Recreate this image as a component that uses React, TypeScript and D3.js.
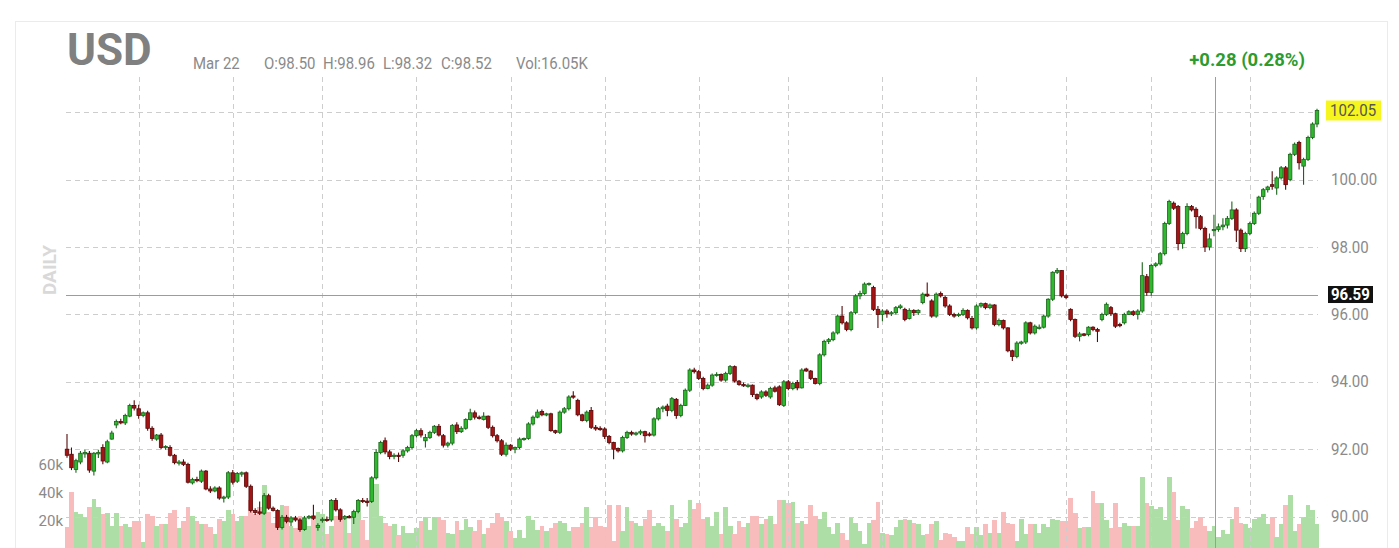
import * as d3 from "d3";

// daily OHLC, one entry per trading day
const OPEN = [
  92.0, 91.85, 91.4, 91.62, 91.86, 91.88, 91.35, 91.86, 92.05, 91.62,
  92.3, 92.72, 92.82, 92.78, 92.98, 93.3, 93.2, 93.0, 93.08, 92.62,
  92.3, 92.42, 92.05, 92.05, 91.82, 91.6, 91.62, 91.55, 91.0, 91.1,
  91.05, 91.35, 90.82, 90.76, 90.85, 90.55, 90.58, 91.3, 91.05, 91.26,
  91.3, 90.9, 90.18, 90.14, 90.1, 90.62, 90.25, 90.18, 89.68, 89.98,
  89.84, 89.96, 89.9, 89.62, 89.96, 90.02, 89.68, 89.88, 89.92, 89.9,
  90.48, 90.2, 89.95, 90.0, 89.98, 90.15, 90.48, 90.46, 90.45, 91.15,
  91.9, 92.25, 91.92, 91.8, 91.82, 91.82, 91.95, 92.05, 92.4, 92.55,
  92.25, 92.35, 92.5, 92.68, 92.4, 92.12, 92.18, 92.72, 92.52, 92.62,
  92.88, 93.08, 92.95, 92.88, 92.98, 92.65, 92.4, 92.25, 91.85, 92.12,
  92.0, 92.05, 92.3, 92.32, 92.75, 92.95, 93.12, 93.02, 93.05, 92.55,
  92.5, 93.1, 93.2, 93.58, 93.45, 93.02, 92.85, 93.15, 92.65, 92.62,
  92.6, 92.38, 92.2, 92.02, 91.95, 92.35, 92.5, 92.45, 92.48, 92.52,
  92.45, 92.42, 92.9, 93.2, 93.28, 93.15, 93.48, 93.0, 93.3, 93.75,
  94.35, 94.3, 94.1, 93.8, 93.9, 94.2, 94.22, 94.05, 94.25, 94.45,
  94.02, 93.92, 93.88, 93.9, 93.62, 93.55, 93.7, 93.55, 93.82, 93.85,
  93.3, 94.0, 93.8, 93.98, 93.82, 94.38, 94.32, 94.1, 93.95, 94.8,
  95.2, 95.25, 95.45, 95.95, 95.75, 95.55, 96.05, 96.55, 96.62, 96.9,
  96.8, 96.15, 96.0, 96.1, 96.02, 96.05, 96.2, 96.15, 95.88, 96.12,
  96.05, 96.35, 96.6, 96.4, 95.95, 96.62, 96.5, 96.25, 96.0, 95.98,
  96.0, 96.12, 95.88, 95.6, 96.25, 96.32, 96.2, 96.28, 95.7, 95.82,
  95.6, 94.92, 94.75, 95.15, 95.18, 95.75, 95.45, 95.6, 95.62, 95.95,
  96.45, 97.25, 97.3, 96.55, 96.15, 95.85, 95.35, 95.42, 95.4, 95.62,
  95.55, 95.85, 96.0, 96.2, 96.02, 95.7, 95.75, 96.0, 96.08, 96.0,
  96.1, 97.12, 96.65, 97.45, 97.5, 97.8, 98.7, 99.3, 99.2, 98.1,
  98.4, 99.2, 99.12, 98.9, 98.55, 98.0, 98.5, 98.52, 98.6, 98.65,
  98.85, 99.1, 98.5, 97.95, 98.4, 98.7, 99.0, 99.5, 99.7, 99.85,
  99.75, 100.05, 100.35, 100.0, 100.75, 101.1, 100.4, 100.6, 101.25, 101.65,
];

const HIGH = [
  92.45, 92.05, 91.72, 91.95, 91.98, 91.95, 91.92, 91.98, 92.15, 92.28,
  92.55, 92.88, 92.9, 93.05, 93.35, 93.45, 93.32, 93.12, 93.14, 92.68,
  92.45, 92.48, 92.12, 92.12, 91.86, 91.68, 91.7, 91.6, 91.15, 91.18,
  91.4, 91.38, 90.9, 90.9, 90.9, 90.62, 91.35, 91.38, 91.32, 91.34,
  91.34, 90.95, 90.25, 90.45, 90.7, 90.68, 90.3, 90.22, 90.05, 90.05,
  90.02, 90.02, 89.95, 90.02, 90.05, 90.35, 89.8, 89.98, 90.0, 90.52,
  90.55, 90.25, 90.05, 90.05, 90.2, 90.52, 90.55, 90.55, 91.2, 92.0,
  92.25, 92.35, 91.98, 91.88, 91.9, 92.0, 92.1, 92.45, 92.6, 92.62,
  92.45, 92.55, 92.72, 92.75, 92.45, 92.22, 92.75, 92.8, 92.68, 92.92,
  93.2, 93.15, 93.0, 93.1, 93.0, 92.7, 92.45, 92.3, 92.2, 92.15,
  92.08, 92.35, 92.35, 92.8, 93.0, 93.18, 93.18, 93.08, 93.08, 92.58,
  93.15, 93.25, 93.6, 93.72, 93.5, 93.05, 93.15, 93.25, 92.72, 92.68,
  92.65, 92.42, 92.22, 92.05, 92.4, 92.55, 92.55, 92.52, 92.58, 92.55,
  92.5, 92.95, 93.25, 93.3, 93.35, 93.55, 93.52, 93.35, 93.8, 94.4,
  94.42, 94.35, 94.15, 93.95, 94.25, 94.28, 94.25, 94.3, 94.5, 94.48,
  94.05, 93.98, 93.95, 93.92, 93.65, 93.75, 93.75, 93.85, 93.88, 93.9,
  94.05, 94.05, 94.0, 94.05, 94.4, 94.42, 94.35, 94.12, 94.85, 95.25,
  95.3, 95.5, 96.0, 96.25, 95.8, 96.1, 96.6, 96.7, 96.95, 96.95,
  96.85, 96.25, 96.15, 96.15, 96.1, 96.25, 96.3, 96.2, 96.18, 96.15,
  96.15, 96.65, 96.95, 96.45, 96.65, 96.68, 96.55, 96.3, 96.05, 96.05,
  96.18, 96.15, 95.95, 96.3, 96.35, 96.35, 96.32, 96.3, 95.88, 95.85,
  95.62, 94.95, 95.2, 95.22, 95.8, 95.78, 95.7, 95.7, 96.0, 96.48,
  97.28, 97.38, 97.32, 96.6, 96.18, 95.88, 95.48, 95.45, 95.65, 95.65,
  95.6, 96.05, 96.35, 96.25, 96.05, 95.75, 96.05, 96.12, 96.12, 96.15,
  97.55, 97.2, 97.5, 97.55, 97.85, 98.75, 99.4, 99.35, 99.25, 98.45,
  99.3, 99.25, 99.18, 98.95, 98.6, 98.4, 98.96, 98.7, 98.85, 98.92,
  99.35, 99.15, 98.55, 98.45, 98.75, 99.05, 99.52, 99.75, 99.82, 100.25,
  100.1, 100.4, 100.4, 100.8, 101.1, 101.15, 100.65, 101.3, 101.7, 102.1,
];

const LOW = [
  91.75, 91.38, 91.3, 91.55, 91.75, 91.3, 91.22, 91.74, 91.55, 91.58,
  92.28, 92.62, 92.74, 92.72, 92.95, 93.15, 92.9, 92.95, 92.55, 92.25,
  92.25, 92.0, 91.98, 91.78, 91.55, 91.52, 91.5, 90.98, 90.95, 91.02,
  91.0, 90.78, 90.7, 90.72, 90.5, 90.42, 90.52, 90.95, 91.0, 91.18,
  90.85, 90.12, 90.05, 90.05, 90.05, 90.2, 90.15, 89.6, 89.62, 89.8,
  89.72, 89.85, 89.55, 89.58, 89.92, 89.9, 89.58, 89.82, 89.85, 89.85,
  90.15, 89.85, 89.9, 89.95, 89.78, 90.1, 90.4, 90.3, 90.4, 91.1,
  91.85, 91.85, 91.7, 91.7, 91.62, 91.75, 91.9, 92.0, 92.35, 92.35,
  92.05, 92.3, 92.45, 92.38, 92.05, 92.05, 92.12, 92.45, 92.48, 92.58,
  92.85, 92.88, 92.88, 92.85, 92.6, 92.35, 92.2, 91.8, 91.78, 91.95,
  91.88, 92.0, 92.25, 92.28, 92.7, 92.92, 92.98, 92.98, 92.52, 92.45,
  92.45, 93.05, 93.15, 93.5, 92.98, 92.82, 92.8, 92.6, 92.55, 92.55,
  92.3, 92.15, 91.7, 91.9, 91.9, 92.3, 92.4, 92.4, 92.42, 92.2,
  92.38, 92.38, 92.85, 93.1, 92.98, 93.1, 92.9, 92.95, 93.28, 93.7,
  94.25, 94.05, 93.75, 93.78, 93.85, 94.15, 94.0, 94.0, 94.2, 93.98,
  93.88, 93.85, 93.82, 93.55, 93.45, 93.5, 93.55, 93.5, 93.68, 93.28,
  93.25, 93.75, 93.75, 93.75, 93.8, 94.3, 94.05, 93.92, 93.9, 94.75,
  95.12, 95.2, 95.4, 95.7, 95.5, 95.5, 96.0, 96.45, 96.58, 96.85,
  96.1, 95.6, 95.8, 95.9, 95.95, 96.0, 96.15, 95.8, 95.85, 95.95,
  95.98, 96.3, 96.52, 95.9, 95.9, 96.5, 96.2, 95.95, 95.9, 95.92,
  95.95, 95.85, 95.55, 95.55, 96.2, 96.15, 96.15, 95.65, 95.65, 95.55,
  94.88, 94.62, 94.7, 95.1, 95.12, 95.4, 95.4, 95.55, 95.58, 95.9,
  96.4, 97.2, 96.5, 96.45, 95.8, 95.3, 95.2, 95.35, 95.35, 95.5,
  95.18, 95.8, 95.95, 95.95, 95.6, 95.62, 95.7, 95.98, 95.95, 95.85,
  96.05, 96.55, 96.55, 97.4, 97.45, 97.75, 98.65, 99.1, 97.9, 97.95,
  98.35, 99.05, 98.55, 98.5, 97.85, 97.9, 98.32, 98.45, 98.5, 98.55,
  98.8, 98.15, 97.85, 97.85, 98.35, 98.65, 98.95, 99.4, 99.62, 99.7,
  99.55, 100.0, 99.7, 99.95, 100.7, 100.3, 99.85, 100.55, 101.2, 101.55,
];

const CLOSE = [
  91.82, 91.45, 91.66, 91.88, 91.9, 91.38, 91.88, 91.9, 91.65, 92.22,
  92.48, 92.82, 92.78, 93.0, 93.3, 93.22, 93.0, 93.08, 92.62, 92.32,
  92.42, 92.05, 92.08, 91.82, 91.6, 91.62, 91.55, 91.02, 91.1, 91.08,
  91.35, 90.82, 90.76, 90.85, 90.55, 90.58, 91.3, 91.02, 91.28, 91.3,
  90.9, 90.18, 90.12, 90.1, 90.62, 90.25, 90.18, 89.68, 89.98, 89.86,
  89.96, 89.9, 89.62, 89.96, 90.0, 89.95, 89.74, 89.92, 89.9, 90.48,
  90.2, 89.92, 90.0, 89.98, 90.15, 90.48, 90.46, 90.42, 91.15, 91.9,
  92.2, 91.92, 91.78, 91.82, 91.8, 91.95, 92.05, 92.4, 92.55, 92.42,
  92.35, 92.5, 92.68, 92.42, 92.12, 92.18, 92.7, 92.52, 92.62, 92.88,
  93.08, 92.95, 92.92, 92.98, 92.65, 92.4, 92.25, 91.85, 92.12, 92.0,
  92.05, 92.3, 92.32, 92.75, 92.95, 93.1, 93.02, 93.05, 92.55, 92.5,
  93.1, 93.2, 93.55, 93.55, 93.02, 92.85, 93.1, 92.65, 92.6, 92.58,
  92.38, 92.2, 92.0, 91.95, 92.35, 92.5, 92.45, 92.48, 92.52, 92.4,
  92.42, 92.9, 93.2, 93.25, 93.15, 93.5, 93.0, 93.3, 93.75, 94.35,
  94.3, 94.1, 93.8, 93.9, 94.2, 94.22, 94.05, 94.25, 94.45, 94.02,
  93.92, 93.88, 93.9, 93.62, 93.5, 93.7, 93.6, 93.8, 93.72, 93.32,
  94.0, 93.8, 93.95, 93.82, 94.35, 94.32, 94.1, 93.95, 94.8, 95.2,
  95.25, 95.45, 95.95, 95.75, 95.55, 96.05, 96.55, 96.62, 96.9, 96.92,
  96.15, 96.0, 96.1, 96.02, 96.05, 96.2, 96.25, 95.85, 96.12, 96.05,
  96.12, 96.6, 96.55, 95.95, 96.6, 96.55, 96.25, 96.0, 95.95, 96.0,
  96.12, 95.9, 95.6, 96.25, 96.32, 96.2, 96.28, 95.7, 95.82, 95.6,
  94.92, 94.75, 95.15, 95.18, 95.75, 95.45, 95.65, 95.62, 95.95, 96.45,
  97.25, 97.3, 96.55, 96.5, 95.85, 95.35, 95.42, 95.38, 95.62, 95.55,
  95.5, 96.0, 96.3, 96.02, 95.65, 95.68, 96.0, 96.08, 96.0, 96.1,
  97.15, 96.65, 97.45, 97.5, 97.8, 98.7, 99.35, 99.15, 98.1, 98.4,
  99.2, 99.1, 98.9, 98.55, 98.0, 98.24, 98.52, 98.6, 98.65, 98.85,
  99.1, 98.5, 97.95, 98.4, 98.7, 99.0, 99.48, 99.7, 99.78, 99.8,
  100.05, 100.35, 99.85, 100.75, 101.05, 100.5, 100.6, 101.25, 101.65, 102.05,
];

// volume in thousands
const VOLUME = [
  15, 40, 26, 24, 22, 29, 35, 29, 24, 25,
  16, 25, 16, 17, 15, 19, 19, 4, 24, 23,
  16, 17, 17, 25, 27, 14, 19, 29, 23, 19,
  17, 17, 15, 10, 21, 19, 27, 24, 19, 23,
  23, 34, 24, 29, 45, 26, 18, 14, 31, 30,
  16, 14, 23, 19, 16, 23, 26, 24, 10, 16,
  23, 23, 21, 11, 26, 26, 20, 6, 34, 46,
  23, 18, 16, 17, 9, 16, 11, 11, 14, 19,
  22, 13, 22, 22, 20, 11, 10, 19, 13, 21,
  15, 12, 20, 10, 14, 18, 25, 22, 19, 12,
  7, 13, 7, 23, 20, 13, 16, 12, 14, 18,
  19, 18, 12, 15, 15, 18, 29, 15, 22, 16,
  15, 31, 5, 31, 12, 29, 19, 18, 16, 21,
  27, 16, 18, 16, 12, 31, 21, 15, 18, 34,
  28, 32, 21, 22, 16, 26, 10, 29, 16, 10,
  19, 15, 18, 23, 23, 17, 21, 23, 17, 34,
  34, 32, 33, 18, 19, 17, 31, 23, 21, 26,
  15, 10, 18, 11, 6, 22, 18, 12, 3, 18,
  20, 33, 11, 10, 9, 15, 20, 21, 20, 18,
  17, 9, 10, 17, 19, 6, 11, 10, 8, 5,
  5, 15, 10, 15, 9, 17, 11, 20, 11, 26,
  18, 17, 5, 21, 10, 17, 17, 11, 17, 15,
  21, 20, 19, 19, 36, 25, 14, 15, 15, 41,
  32, 32, 20, 14, 32, 15, 18, 16, 16, 16,
  51, 32, 30, 28, 29, 20, 51, 40, 20, 30,
  28, 14, 19, 22, 16, 12, 16.05, 8, 13, 10,
  21, 29, 18, 17, 14, 21, 22, 24, 17, 22,
  8, 17, 31, 38, 12, 17, 22, 31, 27, 17,
];

// index of the first trading day of each month (vertical grid)
const MONTH_STARTS = [16, 37, 57, 78, 99, 120, 141, 161, 182, 203, 223, 242, 264];
const PRICE_TICKS = [90, 92, 94, 96, 98, 100, 102];
const VOLUME_TICKS = [20, 40, 60];

const SYMBOL = "USD";
const HOVER_INDEX = 256;
const HOVER_DATE = "Mar 22";
const HOVER_PRICE = 96.59;
const CHANGE_LABEL = "+0.28 (0.28%)";

const W = 1399;
const H = 548;
const LEFT = 66;
const RIGHT = 1318;
const TOP = 77;
const FONT = "Roboto, 'Noto Sans', sans-serif";

const UP = "#2db82d";
const UP_EDGE = "#1b641b";
const DOWN = "#a51414";
const DOWN_EDGE = "#560909";
const VOL_UP = "#acdea5";
const VOL_DOWN = "#f8bcbc";
const GRID = "#cdcdcd";
const LABEL = "#8a8a8a";

export default function App() {
  const x = d3.scaleLinear().domain([0, CLOSE.length - 1]).range([67, 1317]);
  const y = d3.scaleLinear().domain([90, 102]).range([516.6, 112.2]);
  const yVol = d3.scaleLinear().domain([0, 60]).range([548, 464]);
  const step = x(1) - x(0);
  const bodyW = 3.5;

  const hx = x(HOVER_INDEX);
  const hy = y(HOVER_PRICE);
  const last = CLOSE[CLOSE.length - 1];

  const info = [
    { x: 193, t: HOVER_DATE },
    { x: 264, t: `O:${OPEN[HOVER_INDEX].toFixed(2)}` },
    { x: 323, t: `H:${HIGH[HOVER_INDEX].toFixed(2)}` },
    { x: 383, t: `L:${LOW[HOVER_INDEX].toFixed(2)}` },
    { x: 441, t: `C:${CLOSE[HOVER_INDEX].toFixed(2)}` },
    { x: 516, t: `Vol:${VOLUME[HOVER_INDEX].toFixed(2)}K` },
  ];

  return (
    <svg
      width={W}
      height={H}
      style={{ position: "absolute", left: 0, top: 0, background: "#fff" }}
      fontFamily={FONT}
    >
      <rect x={15.5} y={21.5} width={1372} height={600} fill="none" stroke="#ebebeb" />

      {/* header */}
      <text x={67} y={65} fontSize={44} fontWeight={700} fill="#808080">
        {SYMBOL}
      </text>
      {info.map((d) => (
        <text
          key={d.t}
          transform={`translate(${d.x},69) scale(0.88,1)`}
          fontSize={17}
          fill={LABEL}
        >
          {d.t}
        </text>
      ))}
      <text x={1305} y={66} textAnchor="end" fontSize={18.5} fontWeight={700} fill="#2e9b2e">
        {CHANGE_LABEL}
      </text>
      <text
        transform="translate(56,270) rotate(-90)"
        textAnchor="middle"
        fontSize={19}
        fontWeight={700}
        fill="#d9d9d9"
      >
        DAILY
      </text>

      {/* volume */}
      {VOLUME.map((v, i) => (
        <rect
          key={i}
          x={x(i) - step / 2}
          y={yVol(v)}
          width={step + 0.2}
          height={yVol(0) - yVol(v)}
          fill={CLOSE[i] >= OPEN[i] ? VOL_UP : VOL_DOWN}
          shapeRendering="crispEdges"
        />
      ))}

      {/* grid */}
      {PRICE_TICKS.map((p) => (
        <line
          key={p}
          x1={LEFT}
          x2={RIGHT}
          y1={Math.round(y(p)) + 0.5}
          y2={Math.round(y(p)) + 0.5}
          stroke={GRID}
          strokeDasharray="5,4"
        />
      ))}
      {MONTH_STARTS.map((m) => (
        <line
          key={m}
          x1={Math.round(x(m)) + 0.5}
          x2={Math.round(x(m)) + 0.5}
          y1={TOP}
          y2={H}
          stroke={GRID}
          strokeDasharray="5,4"
        />
      ))}

      {/* crosshair */}
      <line x1={Math.round(hx) + 1.5} x2={Math.round(hx) + 1.5} y1={TOP} y2={H} stroke="#9c9c9c" />
      <line x1={LEFT} x2={RIGHT} y1={Math.round(hy) + 0.5} y2={Math.round(hy) + 0.5} stroke="#9c9c9c" />

      {/* candles */}
      {CLOSE.map((c, i) => {
        const o = OPEN[i];
        const up = c >= o;
        const cx = x(i);
        const top = y(Math.max(o, c));
        const h = Math.max(Math.abs(y(o) - y(c)), 1.2);
        return (
          <g key={i}>
            <line x1={cx} x2={cx} y1={y(HIGH[i])} y2={y(LOW[i])} stroke={up ? UP_EDGE : DOWN_EDGE} strokeWidth={1.1} />
            <rect
              x={cx - bodyW / 2}
              y={top}
              width={bodyW}
              height={h}
              fill={up ? UP : DOWN}
              stroke={up ? UP_EDGE : DOWN_EDGE}
              strokeWidth={0.8}
            />
          </g>
        );
      })}

      {/* price axis */}
      {PRICE_TICKS.map((p) => (
        <text
          key={p}
          transform={`translate(1331,${y(p) + 5.5}) scale(0.94,1)`}
          fontSize={16}
          fill={LABEL}
        >
          {p.toFixed(2)}
        </text>
      ))}
      {VOLUME_TICKS.map((v) => (
        <text key={v} x={63} y={yVol(v) + 5.5} textAnchor="end" fontSize={15} fill={LABEL}>
          {`${v}k`}
        </text>
      ))}

      {/* last price & crosshair price labels */}
      <rect x={1326} y={y(last) - 10} width={55} height={20} fill="#f6f61e" />
      <text transform={`translate(1330,${y(last) + 5.5}) scale(0.94,1)`} fontSize={16} fill="#555">
        {last.toFixed(2)}
      </text>
      <rect x={1328} y={hy - 8.5} width={45} height={17} fill="#111" />
      <text
        transform={`translate(1331,${hy + 5.5}) scale(0.94,1)`}
        fontSize={16}
        fontWeight={700}
        fill="#fff"
      >
        {HOVER_PRICE.toFixed(2)}
      </text>
    </svg>
  );
}
